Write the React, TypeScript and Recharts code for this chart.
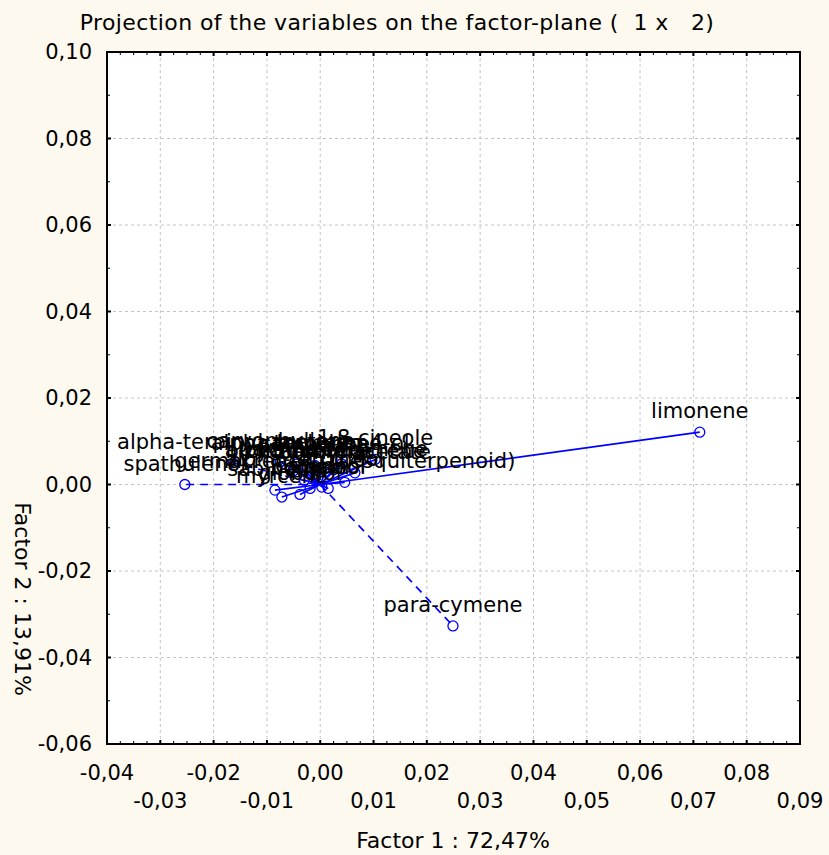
import React from 'react';
import { ScatterChart, Scatter, XAxis, YAxis, CartesianGrid, ReferenceArea } from 'recharts';

// variables projected on the factor plane (factor 1 x factor 2)
const VAR_NAMES = [
  'limonene',
  'para-cymene',
  'spathulenol',
  'alpha-terpinyl acetate',
  'caryophyllene',
  '1,8-cineole',
  'alpha-humulene',
  'terpinen-4-ol',
  'camphene',
  'alpha-pinene',
  'beta-pinene',
  'bicyclogermacrene',
  'gamma-terpinene',
  'bornyl acetate',
  'alpha-terpineol',
  'germacrene D (sesquiterpenoid)',
  'sabinene',
  'borneol',
  'camphor',
  'linalool',
  'myrcene',
  'globulol',
];
const FACTOR_1 = [0.0712, 0.0249, -0.0254, -0.0163, -0.0075, 0.0103, -0.0045, 0.004, -0.001, -0.005, -0.002, 0.001, 0.0025, 0.0065, -0.003, 0.0046, -0.0085, -0.0019, 0.0003, 0.0015, -0.0072, -0.0038];
const FACTOR_2 = [0.0121, -0.0327, 0.0, 0.005, 0.0052, 0.0058, 0.0047, 0.0048, 0.0044, 0.0032, 0.0028, 0.003, 0.0034, 0.0027, 0.001, 0.0005, -0.0013, -0.0009, -0.0006, -0.0009, -0.0029, -0.0023];
const DASHED = [false, true, true, true, false, false, false, false, false, false, false, false, false, false, false, false, false, false, false, false, false, false];

const X_MAJOR = [-0.04, -0.03, -0.02, -0.01, 0.0, 0.01, 0.02, 0.03, 0.04, 0.05, 0.06, 0.07, 0.08, 0.09];
const Y_MAJOR = [-0.06, -0.04, -0.02, 0.0, 0.02, 0.04, 0.06, 0.08, 0.1];

const TITLE = 'Projection of the variables on the factor-plane (  1 x   2)';
const X_TITLE = 'Factor 1 : 72,47%';
const Y_TITLE = 'Factor 2 : 13,91%';

const W = 829;
const H = 855;
const MARGIN = { top: 52, right: 29, bottom: 51, left: 47 };
const X_AXIS_H = 60;
const Y_AXIS_W = 60;
const PLOT_W = W - MARGIN.left - Y_AXIS_W - MARGIN.right;
const PLOT_H = H - MARGIN.top - MARGIN.bottom - X_AXIS_H;
const FONT = '"DejaVu Sans", sans-serif';
const BLUE = '#0000ff';

const subdivide = (major: number[], parts: number) => {
  const out: number[] = [];
  major.forEach((v, i) => {
    out.push(v);
    if (i < major.length - 1) {
      for (let k = 1; k < parts; k++) out.push(Math.round((v + (k * (major[i + 1] - v)) / parts) * 100000) / 100000);
    }
  });
  return out;
};
const X_TICKS = subdivide(X_MAJOR, 4);
const Y_TICKS = subdivide(Y_MAJOR, 2);

const fmt = (v: number) => (Math.abs(v) < 1e-9 ? 0 : v).toFixed(2).replace('.', ',');
const isMajor = (v: number, list: number[]) => list.some((m) => Math.abs(m - v) < 1e-9);

const variables = VAR_NAMES.map((name, i) => ({ name, x: FACTOR_1[i], y: FACTOR_2[i], dashed: DASHED[i] }));

const XTick = (props: any) => {
  const { x, y, payload } = props;
  const v = payload.value;
  const major = isMajor(v, X_MAJOR);
  const len = major ? 4 : 3;
  const sw = major ? 2 : 1;
  const idx = X_MAJOR.findIndex((m) => Math.abs(m - v) < 1e-9);
  return (
    <g>
      <line x1={x} x2={x} y1={y} y2={y - len} stroke="#000" strokeWidth={sw} />
      <line x1={x} x2={x} y1={y - PLOT_H} y2={y - PLOT_H + len} stroke="#000" strokeWidth={sw} />
      {major && (
        <text x={x} y={y + (idx % 2 === 0 ? 36 : 64)} textAnchor="middle" fontSize={21} fontFamily={FONT} fill="#000">
          {fmt(v)}
        </text>
      )}
    </g>
  );
};

const YTick = (props: any) => {
  const { x, y, payload } = props;
  const v = payload.value;
  const major = isMajor(v, Y_MAJOR);
  const len = major ? 4 : 3;
  const sw = major ? 2 : 1;
  return (
    <g>
      <line x1={x} x2={x + len} y1={y} y2={y} stroke="#000" strokeWidth={sw} />
      <line x1={x + PLOT_W} x2={x + PLOT_W - len} y1={y} y2={y} stroke="#000" strokeWidth={sw} />
      {major && (
        <text x={x - 15} y={y} textAnchor="end" dominantBaseline="central" fontSize={21} fontFamily={FONT} fill="#000">
          {fmt(v)}
        </text>
      )}
    </g>
  );
};

const PointShape = (p: any) =>
  p.payload.origin ? <g /> : <circle cx={p.cx} cy={p.cy} r={5} fill="none" stroke={BLUE} strokeWidth={1.3} />;

const LabelShape = (p: any) => (
  <text x={p.cx} y={p.cy - 14} textAnchor="middle" fontSize={21} fontFamily={FONT} fill="#000">
    {p.payload.name}
  </text>
);

export default function App() {
  return (
    <div style={{ position: 'relative', width: W, height: H, background: '#fdf9ee' }}>
      <style>{'body{margin:0}'}</style>
      <ScatterChart width={W} height={H} margin={MARGIN}>
        <CartesianGrid
          fill="#ffffff"
          fillOpacity={1}
          stroke="#c4c4c4"
          strokeDasharray="3 3"
          verticalValues={X_MAJOR.slice(1, -1)}
          horizontalValues={Y_MAJOR.slice(1, -1)}
        />
        <XAxis
          type="number"
          dataKey="x"
          domain={[X_MAJOR[0], X_MAJOR[X_MAJOR.length - 1]]}
          ticks={X_TICKS}
          interval={0}
          tick={XTick}
          tickLine={false}
          axisLine={false}
          tickSize={0}
          tickMargin={0}
          height={X_AXIS_H}
          allowDataOverflow
        />
        <YAxis
          type="number"
          dataKey="y"
          domain={[Y_MAJOR[0], Y_MAJOR[Y_MAJOR.length - 1]]}
          ticks={Y_TICKS}
          interval={0}
          tick={YTick}
          tickLine={false}
          axisLine={false}
          tickSize={0}
          tickMargin={0}
          width={Y_AXIS_W}
          allowDataOverflow
        />
        {variables.map((v) => (
          <Scatter
            key={v.name}
            data={[
              { x: 0, y: 0, origin: true },
              { x: v.x, y: v.y, origin: false },
            ]}
            fill={BLUE}
            line={{ stroke: BLUE, strokeWidth: 1.7, strokeDasharray: v.dashed ? '8 6' : undefined }}
            lineType="joint"
            shape={PointShape}
            isAnimationActive={false}
          />
        ))}
        <Scatter data={variables} fill="#000" shape={LabelShape} isAnimationActive={false} />
        <ReferenceArea
          x1={X_MAJOR[0]}
          x2={X_MAJOR[X_MAJOR.length - 1]}
          y1={Y_MAJOR[0]}
          y2={Y_MAJOR[Y_MAJOR.length - 1]}
          fill="none"
          stroke="#000"
          strokeWidth={2}
          ifOverflow="visible"
        />
      </ScatterChart>
      <svg width={W} height={H} style={{ position: 'absolute', left: 0, top: 0, pointerEvents: 'none' }}>
        <text
          x={397}
          y={30}
          textAnchor="middle"
          fontSize={22}
          letterSpacing={0.4}
          fontFamily={FONT}
          fill="#000"
          style={{ whiteSpace: 'pre' }}
        >
          {TITLE}
        </text>
        <text x={453} y={848} textAnchor="middle" fontSize={22} fontFamily={FONT} fill="#000">
          {X_TITLE}
        </text>
        <text
          x={22}
          y={599}
          textAnchor="middle"
          dominantBaseline="central"
          transform="rotate(90 22 599)"
          fontSize={22}
          fontFamily={FONT}
          fill="#000"
        >
          {Y_TITLE}
        </text>
      </svg>
    </div>
  );
}
